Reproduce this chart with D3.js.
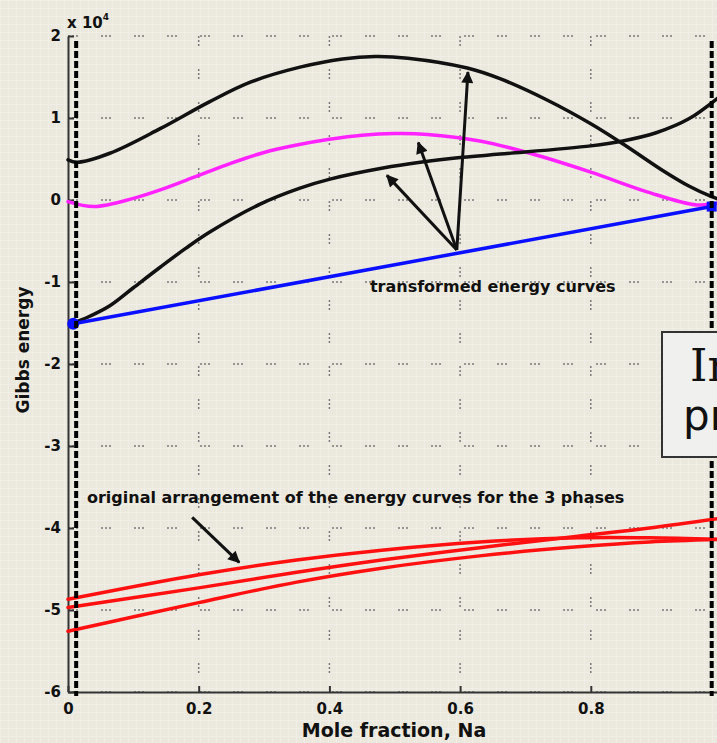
<!DOCTYPE html>
<html>
<head>
<meta charset="utf-8">
<script src="https://cdn.jsdelivr.net/npm/d3@7"></script>
<style>
  body { margin: 0; background: #ebe8dd; }
  #chart svg { display: block; }
  .axis path, .axis line { stroke: #333; stroke-width: 2; }
  .axis text { font-family: "DejaVu Sans", sans-serif; font-weight: bold; font-size: 15px; fill: #111; }
  .label { font-family: "DejaVu Sans", sans-serif; font-weight: bold; fill: #111; }
</style>
</head>
<body>
<div id="chart"></div>
<script>
// values are in units of 1e4
var xTicks = [0, 0.2, 0.4, 0.6, 0.8];
var yTicks = [-6, -5, -4, -3, -2, -1, 0, 1, 2];

var upperBlack = [[0,0.49],[0.014,0.46],[0.064,0.57],[0.141,0.87],[0.217,1.20],[0.28,1.44],[0.355,1.62],[0.42,1.72],
                  [0.47,1.75],[0.52,1.73],[0.611,1.61],[0.661,1.48],[0.733,1.22],[0.8,0.93],[0.85,0.68],[0.91,0.36],
                  [0.95,0.17],[0.985,0.04],[1,0.0]];
var lowerBlack = [[0.008,-1.50],[0.03,-1.43],[0.064,-1.29],[0.1,-1.07],[0.141,-0.82],[0.18,-0.59],[0.217,-0.39],
                  [0.294,-0.05],[0.355,0.145],[0.401,0.255],[0.482,0.39],[0.539,0.46],[0.604,0.52],[0.661,0.56],
                  [0.8,0.66],[0.849,0.72],[0.9,0.82],[0.95,0.99],[1,1.28]];
var magenta = [[0,-0.02],[0.04,-0.08],[0.1,0.02],[0.14,0.12],[0.2,0.30],[0.25,0.45],[0.3,0.58],[0.35,0.67],
               [0.4,0.74],[0.45,0.79],[0.5,0.81],[0.55,0.80],[0.63,0.72],[0.707,0.57],[0.8,0.34],[0.886,0.10],
               [0.962,-0.06],[1,-0.03]];
var tangent = [[0.008,-1.51],[0.985,-0.08]];
var redA = [[0,-4.87],[0.2,-4.57],[0.35,-4.39],[0.48,-4.27],[0.63,-4.17],[0.78,-4.12],[0.89,-4.12],[1,-4.14]];
var redB = [[0,-4.97],[0.2,-4.73],[0.35,-4.54],[0.48,-4.39],[0.63,-4.24],[0.78,-4.10],[0.89,-4.0],[1,-3.88]];
var redC = [[0,-5.26],[0.2,-4.91],[0.35,-4.66],[0.48,-4.49],[0.63,-4.34],[0.78,-4.23],[0.89,-4.17],[1,-4.14]];
var boundaries = [0.0125, 0.985];

var w = 717;
var h = 743;

var xScale = d3.scaleLinear().domain([0, 1]).range([68, 721.5]);
var yScale = d3.scaleLinear().domain([-6, 2]).range([692, 36]);

var svg = d3.select("#chart")
            .append("svg")
            .attr("width", w)
            .attr("height", h);

// faint paper texture
var defs = svg.append("defs");
var pat = defs.append("pattern")
    .attr("id", "paper")
    .attr("width", 8).attr("height", 8)
    .attr("patternUnits", "userSpaceOnUse");
pat.append("rect").attr("width", 8).attr("height", 8).attr("fill", "#ebe8dd");
pat.append("path").attr("d", "M0 0.5H8M0.5 0V8").attr("stroke", "#f0eee6").attr("stroke-width", 1);

defs.append("marker")
    .attr("id", "arrow")
    .attr("viewBox", "0 0 10 10")
    .attr("refX", 9).attr("refY", 5)
    .attr("markerWidth", 5).attr("markerHeight", 4)
    .attr("markerUnits", "strokeWidth")
    .attr("orient", "auto")
  .append("path")
    .attr("d", "M0,0L10,5L0,10Z")
    .attr("fill", "#111");

svg.append("rect").attr("width", w).attr("height", h).attr("fill", "url(#paper)");

// dotted grid
var gridDash = "2,2,2,2,2,23";
svg.append("g").selectAll("line")
    .data(yTicks)
    .enter().append("line")
    .attr("x1", xScale(0)).attr("x2", xScale(1))
    .attr("y1", function(d) { return yScale(d); })
    .attr("y2", function(d) { return yScale(d); })
    .attr("stroke", "#7a7a7a").attr("stroke-width", 1.5)
    .attr("stroke-dasharray", gridDash);

svg.append("g").selectAll("line")
    .data(xTicks.slice(1))
    .enter().append("line")
    .attr("x1", function(d) { return xScale(d); })
    .attr("x2", function(d) { return xScale(d); })
    .attr("y1", yScale(2)).attr("y2", yScale(-6))
    .attr("stroke", "#7a7a7a").attr("stroke-width", 1.5)
    .attr("stroke-dasharray", gridDash);

// axes
var xAxis = d3.axisBottom(xScale)
    .tickValues(xTicks)
    .tickSizeInner(-6).tickSizeOuter(0).tickPadding(11)
    .tickFormat(d3.format("~g"));

var yAxis = d3.axisLeft(yScale)
    .tickValues(yTicks)
    .tickSizeInner(-6).tickSizeOuter(0).tickPadding(7)
    .tickFormat(function(d) { return d < 0 ? "-" + Math.abs(d) : d; });

svg.append("g")
    .attr("class", "axis")
    .attr("transform", "translate(0," + yScale(-6) + ")")
    .call(xAxis);

svg.append("g")
    .attr("class", "axis")
    .attr("transform", "translate(" + xScale(0) + ",0)")
    .call(yAxis);

// curves
var line = d3.line()
    .x(function(d) { return xScale(d[0]); })
    .y(function(d) { return yScale(d[1]); })
    .curve(d3.curveCatmullRom.alpha(0.5));

function drawCurve(data, color, width) {
    svg.append("path")
        .datum(data)
        .attr("d", line)
        .attr("fill", "none")
        .attr("stroke", color)
        .attr("stroke-width", width)
        .attr("stroke-linecap", "round");
}

drawCurve(redA, "#ff1010", 3.5);
drawCurve(redB, "#ff1010", 3.5);
drawCurve(redC, "#ff1010", 3.5);
drawCurve(magenta, "#ff22ff", 3.5);
drawCurve(upperBlack, "#111", 3.5);
drawCurve(lowerBlack, "#111", 3.5);
drawCurve(tangent, "#0a10ff", 3.5);

// tangent end points
svg.append("circle")
    .attr("cx", xScale(tangent[0][0])).attr("cy", yScale(tangent[0][1]))
    .attr("r", 6).attr("fill", "#0a10ff");
svg.append("rect")
    .attr("x", xScale(tangent[1][0]) - 5).attr("y", yScale(tangent[1][1]) - 5)
    .attr("width", 10).attr("height", 10).attr("fill", "#0a10ff");

// phase boundary lines
svg.append("g").selectAll("line")
    .data(boundaries)
    .enter().append("line")
    .attr("x1", function(d) { return xScale(d); })
    .attr("x2", function(d) { return xScale(d); })
    .attr("y1", yScale(1.94)).attr("y2", yScale(-6.05))
    .attr("stroke", "#000").attr("stroke-width", 4)
    .attr("stroke-dasharray", "7,3");

// annotations
var origin = [0.595, -0.61];
var tips = [[0.612, 1.56], [0.536, 0.70], [0.488, 0.30]];
svg.append("g").selectAll("line")
    .data(tips)
    .enter().append("line")
    .attr("x1", xScale(origin[0])).attr("y1", yScale(origin[1]))
    .attr("x2", function(d) { return xScale(d[0]); })
    .attr("y2", function(d) { return yScale(d[1]); })
    .attr("stroke", "#111").attr("stroke-width", 3)
    .attr("marker-end", "url(#arrow)");

svg.append("text")
    .attr("class", "label")
    .attr("x", xScale(0.462)).attr("y", yScale(-1.12))
    .style("font-size", "16px")
    .text("transformed energy curves");

svg.append("line")
    .attr("x1", xScale(0.19)).attr("y1", yScale(-3.87))
    .attr("x2", xScale(0.262)).attr("y2", yScale(-4.42))
    .attr("stroke", "#111").attr("stroke-width", 3)
    .attr("marker-end", "url(#arrow)");

svg.append("text")
    .attr("class", "label")
    .attr("x", xScale(0.029)).attr("y", yScale(-3.70))
    .style("font-size", "16px")
    .text("original arrangement of the energy curves for the 3 phases");

// axis labels
svg.append("text")
    .attr("class", "label")
    .attr("text-anchor", "middle")
    .attr("x", 394).attr("y", 737)
    .style("font-size", "19px")
    .text("Mole fraction, Na");

svg.append("text")
    .attr("class", "label")
    .attr("text-anchor", "middle")
    .attr("transform", "translate(29,350) rotate(-90)")
    .style("font-size", "17px")
    .text("Gibbs energy");

var expo = svg.append("text")
    .attr("class", "label")
    .attr("x", 67).attr("y", 28)
    .style("font-size", "15px");
expo.append("tspan").text("x 10");
expo.append("tspan").attr("dy", -8).style("font-size", "9px").text("4");

// cropped slide text box on the right
svg.append("rect")
    .attr("x", 662).attr("y", 332)
    .attr("width", 80).attr("height", 125)
    .attr("fill", "#f0f0ee").attr("stroke", "#333").attr("stroke-width", 2);
svg.append("text")
    .attr("x", 690).attr("y", 381)
    .style("font-family", "'DejaVu Serif', serif")
    .style("font-size", "44px").attr("fill", "#111")
    .text("In");
svg.append("text")
    .attr("x", 683).attr("y", 430)
    .style("font-family", "'DejaVu Sans', sans-serif")
    .style("font-size", "42px").attr("fill", "#111")
    .text("pr");
</script>
</body>
</html>
